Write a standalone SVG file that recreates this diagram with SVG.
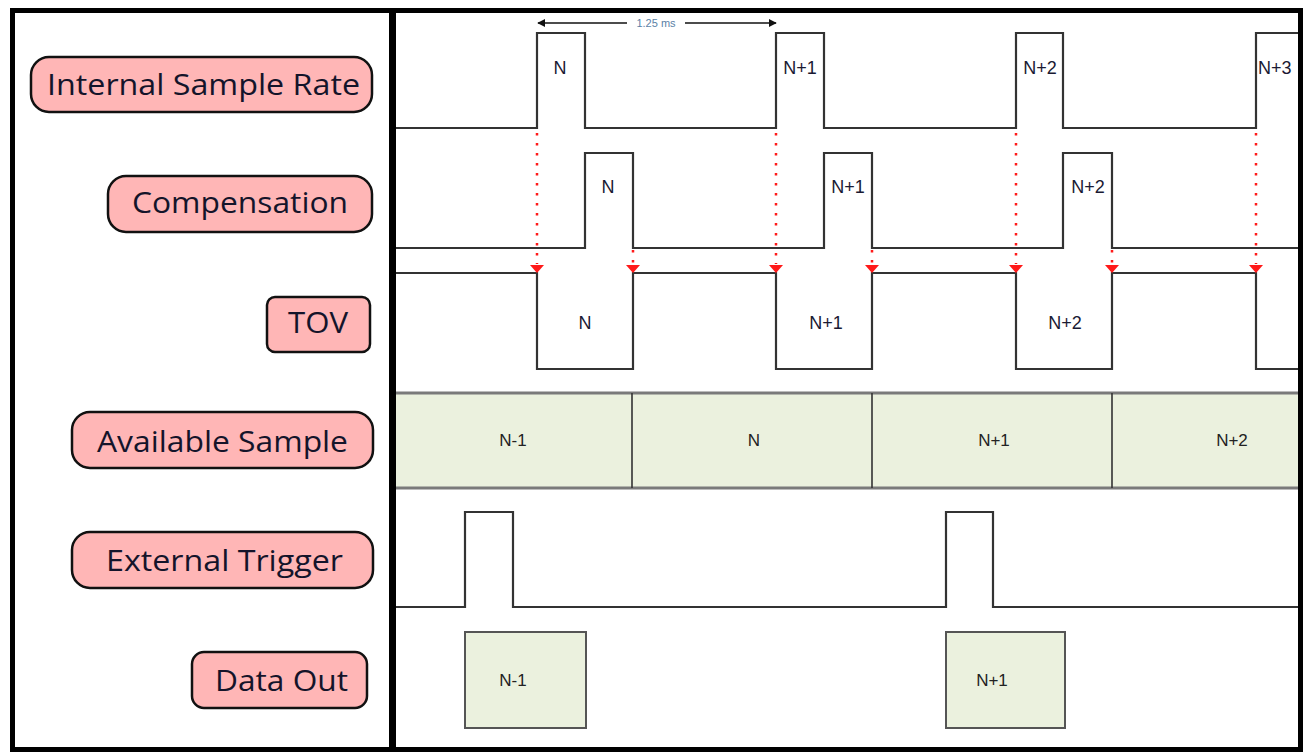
<svg xmlns="http://www.w3.org/2000/svg" width="1310" height="753" viewBox="0 0 1310 753">
<defs>
<style>
.pill{fill:#FFB6B6;stroke:#111;stroke-width:2.5}
.lbl{font-family:"Open Sans","Liberation Sans",sans-serif;font-size:29px;fill:#14142a}
.wave{fill:none;stroke:#333;stroke-width:2.2}
.wl{font-family:"Liberation Sans",Arial,sans-serif;font-size:18px;fill:#1a1a33;text-anchor:middle}
.bl{font-family:"Liberation Sans",Arial,sans-serif;font-size:17px;fill:#222;text-anchor:middle}
.dot{stroke:#FF1a1a;stroke-width:2.5;stroke-dasharray:2.5 7.5;fill:none}
.tri{fill:#FF1a1a}
.band{fill:#EBF1DE}
.box{fill:#EBF1DE;stroke:#555;stroke-width:2}
</style>
<marker id="ah" viewBox="0 0 10 10" refX="9" refY="5" markerWidth="8" markerHeight="8" markerUnits="userSpaceOnUse" orient="auto">
<path d="M0,0 L10,5 L0,10 z" fill="#111"/>
</marker>
</defs>
<rect x="0" y="0" width="1310" height="753" fill="#fff"/>

<g id="label-isr"><rect class="pill" x="31" y="57" width="341" height="55" rx="18"/><text class="lbl" x="47" y="95" textLength="313" lengthAdjust="spacingAndGlyphs">Internal Sample Rate</text></g>
<g id="label-comp"><rect class="pill" x="108" y="176" width="264" height="56" rx="18"/><text class="lbl" x="132" y="213" textLength="216" lengthAdjust="spacingAndGlyphs">Compensation</text></g>
<g id="label-tov"><rect class="pill" x="267" y="297" width="103" height="55" rx="8"/><text class="lbl" x="288" y="333" textLength="60" lengthAdjust="spacingAndGlyphs">TOV</text></g>
<g id="label-avail"><rect class="pill" x="72" y="412" width="301" height="56" rx="18"/><text class="lbl" x="97" y="452" textLength="251" lengthAdjust="spacingAndGlyphs">Available Sample</text></g>
<g id="label-ext"><rect class="pill" x="72" y="532" width="301" height="56" rx="18"/><text class="lbl" x="106" y="571" textLength="237" lengthAdjust="spacingAndGlyphs">External Trigger</text></g>
<g id="label-out"><rect class="pill" x="192" y="652" width="175" height="56" rx="12"/><text class="lbl" x="215" y="691" textLength="133" lengthAdjust="spacingAndGlyphs">Data Out</text></g>

<g id="available-sample">
<rect class="band" x="396" y="393" width="904" height="95"/>
<line x1="396" y1="393" x2="1300" y2="393" stroke="#7a7a7a" stroke-width="3"/>
<line x1="396" y1="488" x2="1300" y2="488" stroke="#7a7a7a" stroke-width="3"/>
<line x1="632" y1="393" x2="632" y2="488" stroke="#333" stroke-width="1.6"/>
<line x1="872" y1="393" x2="872" y2="488" stroke="#333" stroke-width="1.6"/>
<line x1="1112" y1="393" x2="1112" y2="488" stroke="#333" stroke-width="1.6"/>
<text class="bl" x="513" y="446">N-1</text>
<text class="bl" x="754" y="446">N</text>
<text class="bl" x="994" y="446">N+1</text>
<text class="bl" x="1232" y="446">N+2</text>
</g>

<g id="data-out">
<rect class="box" x="465" y="632" width="121" height="96"/>
<rect class="box" x="946" y="632" width="119" height="96"/>
<text class="bl" x="513" y="686">N-1</text>
<text class="bl" x="992" y="686">N+1</text>
</g>

<g id="waveforms">
<path class="wave" d="M396,128 H537 V33 H585 V128 H776 V33 H824 V128 H1016 V33 H1063 V128 H1256 V33 H1300"/>
<path class="wave" d="M396,248 H585 V153 H633 V248 H824 V153 H872 V248 H1063 V153 H1112 V248 H1300"/>
<path class="wave" d="M396,273 H537 V369 H633 V273 H776 V369 H872 V273 H1016 V369 H1112 V273 H1256 V369 H1300"/>
<path class="wave" d="M396,607 H465 V512 H513 V607 H946 V512 H993 V607 H1300"/>
<text class="wl" x="560" y="74">N</text>
<text class="wl" x="800" y="74">N+1</text>
<text class="wl" x="1040" y="74">N+2</text>
<text class="wl" x="1258" y="74" style="text-anchor:start">N+3</text>
<text class="wl" x="608" y="193">N</text>
<text class="wl" x="848" y="193">N+1</text>
<text class="wl" x="1088" y="193">N+2</text>
<text class="wl" x="585" y="329">N</text>
<text class="wl" x="826" y="329">N+1</text>
<text class="wl" x="1065" y="329">N+2</text>
</g>

<g id="connectors">
<line class="dot" x1="537" y1="133" x2="537" y2="264"/>
<line class="dot" x1="776" y1="133" x2="776" y2="264"/>
<line class="dot" x1="1016" y1="133" x2="1016" y2="264"/>
<line class="dot" x1="1256" y1="133" x2="1256" y2="264"/>
<line class="dot" x1="633" y1="250" x2="633" y2="264"/>
<line class="dot" x1="872" y1="250" x2="872" y2="264"/>
<line class="dot" x1="1112" y1="250" x2="1112" y2="264"/>
<polygon class="tri" points="530,265 544,265 537,273"/>
<polygon class="tri" points="769,265 783,265 776,273"/>
<polygon class="tri" points="1009,265 1023,265 1016,273"/>
<polygon class="tri" points="1249,265 1263,265 1256,273"/>
<polygon class="tri" points="626,265 640,265 633,273"/>
<polygon class="tri" points="865,265 879,265 872,273"/>
<polygon class="tri" points="1105,265 1119,265 1112,273"/>
<line x1="627" y1="23" x2="538" y2="23" stroke="#111" stroke-width="1.5" marker-end="url(#ah)"/>
<line x1="685" y1="23" x2="776" y2="23" stroke="#111" stroke-width="1.5" marker-end="url(#ah)"/>
<text x="656" y="27" font-family="Liberation Sans, Arial, sans-serif" font-size="11" fill="#5b7fa6" text-anchor="middle">1.25 ms</text>
</g>

<g id="frame">
<rect x="12.5" y="10.5" width="1288" height="739" fill="none" stroke="#000" stroke-width="5"/>
<line x1="392.5" y1="10" x2="392.5" y2="750" stroke="#000" stroke-width="7"/>
</g>
</svg>
